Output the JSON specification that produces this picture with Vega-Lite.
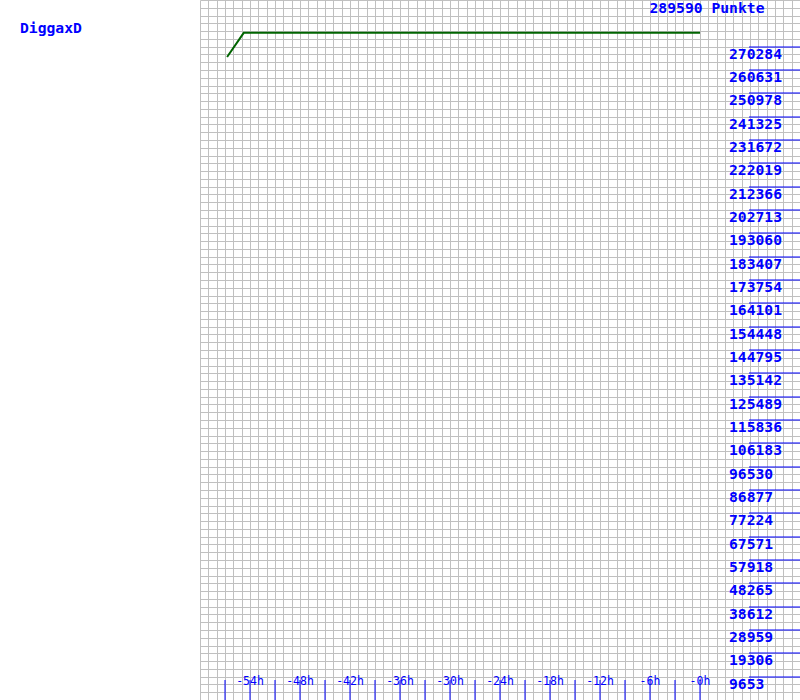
{
  "$schema": "https://vega.github.io/schema/vega-lite/v6.json",
  "width": 600,
  "height": 700,
  "autosize": {"type": "none"},
  "padding": {"left": 200, "top": 0, "right": 0, "bottom": 0},
  "background": "white",
  "title": {"text": "DiggaxD", "anchor": "start", "frame": "group", "orient": "top", "offset": 0, "dx": -180, "dy": 48, "baseline": "alphabetic", "font": "DejaVu Sans Mono", "fontSize": 14.7, "fontWeight": "bold", "color": "#0000ff"},
  "config": {"view": {"stroke": null}, "axis": {"tickColor": "#0000ff", "labelColor": "#0000ff", "domainColor": "#0000ff"}},
  "datasets": {
    "points": [
      {"hour": -56.75, "points": 266000},
      {"hour": -54.75, "points": 276000},
      {"hour": 0, "points": 276000}
    ],
    "label": [
      {"hour": 0.84, "points": 289590, "label": "289590 Punkte"}
    ]
  },
  "layer": [
    {
      "data": {"name": "points"},
      "mark": {"type": "line", "color": "#006400", "strokeWidth": 2},
      "encoding": {
        "x": {"field": "hour", "type": "quantitative", "scale": {"domain": [-60, 12], "nice": false, "zero": false},
          "axis": {"orient": "bottom", "zindex": 0, "values": [-60,-59,-58,-57,-56,-55,-54,-53,-52,-51,-50,-49,-48,-47,-46,-45,-44,-43,-42,-41,-40,-39,-38,-37,-36,-35,-34,-33,-32,-31,-30,-29,-28,-27,-26,-25,-24,-23,-22,-21,-20,-19,-18,-17,-16,-15,-14,-13,-12,-11,-10,-9,-8,-7,-6,-5,-4,-3,-2,-1,0,1,2,3,4,5,6,7,8,9,10,11,12],
            "grid": true, "gridColor": "#c0c0c0", "gridWidth": 1, "gridOpacity": 1, "ticks": false, "labels": false, "domain": false, "title": null}},
        "y": {"field": "points", "type": "quantitative", "scale": {"domain": [0, 289590], "nice": false, "zero": true},
          "axis": {"orient": "left", "zindex": 0, "values": [0,3217.667,6435.333,9653,12870.667,16088.333,19306,22523.667,25741.333,28959,32176.667,35394.333,38612,41829.667,45047.333,48265,51482.667,54700.333,57918,61135.667,64353.333,67571,70788.667,74006.333,77224,80441.667,83659.333,86877,90094.667,93312.333,96530,99747.667,102965.333,106183,109400.667,112618.333,115836,119053.667,122271.333,125489,128706.667,131924.333,135142,138359.667,141577.333,144795,148012.667,151230.333,154448,157665.667,160883.333,164101,167318.667,170536.333,173754,176971.667,180189.333,183407,186624.667,189842.333,193060,196277.667,199495.333,202713,205930.667,209148.333,212366,215583.667,218801.333,222019,225236.667,228454.333,231672,234889.667,238107.333,241325,244542.667,247760.333,250978,254195.667,257413.333,260631,263848.667,267066.333,270284,273501.667,276719.333,279937,283154.667,286372.333,289590],
            "grid": true, "gridColor": "#c0c0c0", "gridWidth": 1, "gridOpacity": 1, "ticks": false, "labels": false, "domain": false, "title": null}}
      }
    },
    {
      "data": {"name": "label"},
      "mark": {"type": "text", "font": "DejaVu Sans Mono", "fontSize": 14.7, "fontWeight": "bold", "color": "#0000ff", "align": "center", "baseline": "top", "dy": 1},
      "encoding": {
        "x": {"field": "hour", "type": "quantitative", "scale": {"domain": [-60, 12], "nice": false, "zero": false},
          "axis": {"orient": "bottom", "zindex": 2, "translate": 0, "values": [-57,-54,-51,-48,-45,-42,-39,-36,-33,-30,-27,-24,-21,-18,-15,-12,-9,-6,-3,0],
            "grid": false, "domain": false, "ticks": true, "tickColor": "#0000ff", "tickOpacity": 1, "tickSize": -20, "tickWidth": 1,
            "labelExpr": "datum.value % 6 == 0 ? '-' + abs(datum.value) + 'h' : ''",
            "labelColor": "#0000ff", "labelFont": "DejaVu Sans Mono", "labelFontSize": 11.5, "labelPadding": 5, "labelBaseline": "alphabetic", "labelAlign": "center", "labelFlush": false, "labelOverlap": false, "title": null}},
        "y": {"field": "points", "type": "quantitative", "scale": {"domain": [0, 289590], "nice": false, "zero": true},
          "axis": {"orient": "right", "zindex": 2, "translate": 0, "values": [9653,19306,28959,38612,48265,57918,67571,77224,86877,96530,106183,115836,125489,135142,144795,154448,164101,173754,183407,193060,202713,212366,222019,231672,241325,250978,260631,270284],
            "grid": false, "domain": false, "ticks": true, "tickColor": "#0000ff", "tickOpacity": 1, "tickSize": -51, "tickWidth": 1, "format": "d",
            "labelColor": "#0000ff", "labelFont": "DejaVu Sans Mono", "labelFontSize": 14.7, "labelFontWeight": "bold", "labelAlign": "left", "labelBaseline": "top", "labelPadding": -20, "labelFlush": false, "labelOverlap": false, "title": null}},
        "text": {"field": "label", "type": "nominal"}
      }
    }
  ],
  "resolve": {"axis": {"x": "independent", "y": "independent"}}
}
